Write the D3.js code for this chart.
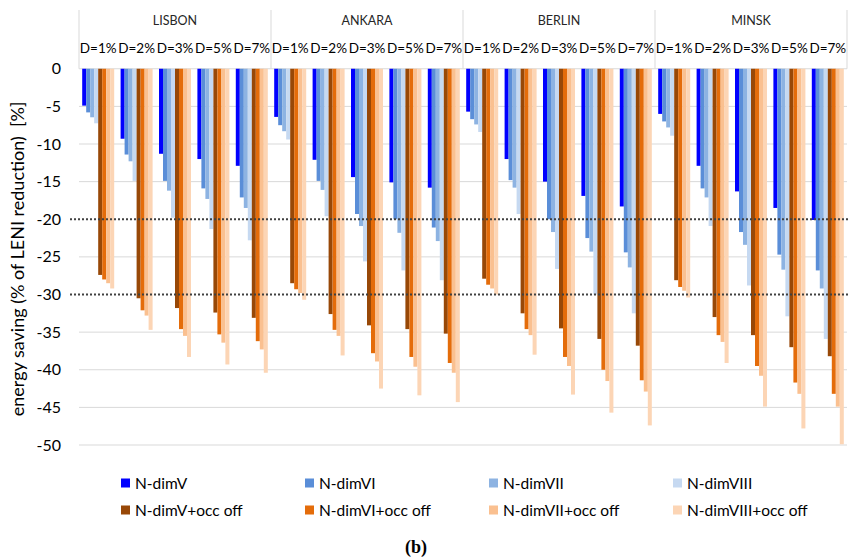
<!DOCTYPE html>
<html>
<head>
<meta charset="utf-8">
<script src="https://cdn.jsdelivr.net/npm/d3@7"></script>
<style>
  html, body { margin: 0; padding: 0; background: #fff; }
  svg { display: block; font-family: Lato, "Open Sans", sans-serif; }
</style>
</head>
<body>
<svg id="chart" width="850" height="559"></svg>
<script>
// Cities and diffuser shares along the x axis
const cities = ["LISBON", "ANKARA", "BERLIN", "MINSK"];
const dLabels = ["D=1%", "D=2%", "D=3%", "D=5%", "D=7%"];

// Series names (legend order = bar order inside each group)
const seriesNames = [
  "N-dimV", "N-dimVI", "N-dimVII", "N-dimVIII",
  "N-dimV+occ off", "N-dimVI+occ off", "N-dimVII+occ off", "N-dimVIII+occ off"
];
const seriesColors = [
  "#0000ff", "#5a8ed8", "#8db3e2", "#c6d9f1",
  "#984807", "#e46c0a", "#fac090", "#fcd5b5"
];

// Energy saving values, per series: LISBON, ANKARA, BERLIN, MINSK × D=1,2,3,5,7 %
const nDimV = [
  -4.9, -9.3, -11.3, -12.0, -12.9,
  -6.4, -12.1, -14.4, -15.1, -15.8,
  -5.7, -12.0, -15.0, -16.9, -18.3,
  -6.0, -12.9, -16.3, -18.5, -20.1
];
const nDimVI = [
  -5.8, -11.4, -14.9, -15.9, -17.1,
  -7.5, -14.9, -19.3, -20.0, -21.1,
  -6.7, -14.8, -20.0, -22.5, -24.4,
  -7.0, -15.9, -21.7, -24.7, -26.8
];
const nDimVII = [
  -6.45, -12.3, -16.2, -17.3, -18.5,
  -8.3, -16.1, -20.9, -21.8, -22.9,
  -7.4, -15.8, -21.7, -24.3, -26.4,
  -7.8, -17.1, -23.4, -26.7, -29.2
];
const nDimVIII = [
  -7.25, -14.9, -19.8, -21.3, -22.8,
  -9.4, -19.6, -25.6, -26.8, -28.1,
  -8.4, -19.3, -26.6, -30.0, -32.5,
  -8.9, -20.9, -28.8, -32.9, -35.9
];
const nDimVOcc = [
  -27.4, -30.5, -31.8, -32.4, -33.1,
  -28.5, -32.6, -34.1, -34.6, -35.2,
  -27.9, -32.5, -34.5, -35.9, -36.8,
  -28.1, -33.0, -35.4, -37.0, -38.2
];
const nDimVIOcc = [
  -28.0, -32.1, -34.6, -35.3, -36.2,
  -29.3, -34.7, -37.8, -38.3, -39.1,
  -28.7, -34.6, -38.3, -40.0, -41.4,
  -29.0, -35.4, -39.5, -41.7, -43.2
];
const nDimVIIOcc = [
  -28.5, -32.8, -35.5, -36.4, -37.3,
  -29.8, -35.5, -38.9, -39.6, -40.4,
  -29.2, -35.4, -39.5, -41.5, -42.9,
  -29.5, -36.3, -40.8, -43.2, -44.9
];
const nDimVIIIOcc = [
  -29.2, -34.7, -38.3, -39.3, -40.4,
  -30.7, -38.1, -42.5, -43.4, -44.3,
  -30.0, -38.0, -43.3, -45.7, -47.4,
  -30.4, -39.1, -44.9, -47.8, -49.9
];

// Y axis ticks and the two reference thresholds
const yTicks = [0, -5, -10, -15, -20, -25, -30, -35, -40, -45, -50];
const thresholds = [-20, -30];

const seriesValues = [nDimV, nDimVI, nDimVII, nDimVIII, nDimVOcc, nDimVIOcc, nDimVIIOcc, nDimVIIIOcc];

const svg = d3.select("#chart");
const plotLeft = 79, plotRight = 847, plotTop = 68.75, plotBottom = 445;
const headerTop = 10;
const gridColor = "#d9d9d9";

const y = d3.scaleLinear().domain([0, -50]).range([plotTop, plotBottom]);
const xCity = d3.scaleBand().domain(cities).range([plotLeft, plotRight]);
const xD = d3.scaleBand().domain(dLabels).range([0, xCity.bandwidth()]);
const xS = d3.scaleBand().domain(seriesNames).range([0, xD.bandwidth()]).paddingOuter(0.8).paddingInner(0);

// Horizontal gridlines
svg.append("g").selectAll("line")
  .data(yTicks.filter(t => t !== 0 && !thresholds.includes(t)))
  .join("line")
  .attr("x1", plotLeft).attr("x2", plotRight)
  .attr("y1", d => y(d)).attr("y2", d => y(d))
  .attr("stroke", gridColor).attr("stroke-width", 1);

// Header panel: city boxes with D labels
const header = svg.append("g");
header.append("line")
  .attr("x1", plotLeft).attr("x2", plotRight)
  .attr("y1", y(0)).attr("y2", y(0))
  .attr("stroke", gridColor).attr("stroke-width", 1);
header.selectAll("line.sep")
  .data(cities.map(c => xCity(c)).concat([plotRight]))
  .join("line").attr("class", "sep")
  .attr("x1", d => d).attr("x2", d => d)
  .attr("y1", headerTop).attr("y2", y(0))
  .attr("stroke", gridColor).attr("stroke-width", 1);
header.selectAll("text.city")
  .data(cities)
  .join("text").attr("class", "city")
  .attr("x", d => xCity(d) + xCity.bandwidth() / 2)
  .attr("y", 25)
  .attr("text-anchor", "middle")
  .attr("font-size", 12.5)
  .attr("fill", "#262626")
  .text(d => d);
cities.forEach(c => {
  header.append("g").selectAll("text")
    .data(dLabels)
    .join("text")
    .attr("x", d => xCity(c) + xD(d) + xD.bandwidth() / 2)
    .attr("y", 53)
    .attr("text-anchor", "middle")
    .attr("font-size", 13.5)
    .attr("fill", "#000")
    .text(d => d);
});

// Bars
const barData = [];
cities.forEach((c, ci) => {
  dLabels.forEach((d, di) => {
    seriesNames.forEach((s, si) => {
      barData.push({ city: c, d: d, s: s, si: si, v: seriesValues[si][ci * dLabels.length + di] });
    });
  });
});
svg.append("g").selectAll("rect")
  .data(barData)
  .join("rect")
  .attr("x", b => xCity(b.city) + xD(b.d) + xS(b.s))
  .attr("width", xS.bandwidth())
  .attr("y", y(0))
  .attr("height", b => y(b.v) - y(0))
  .attr("fill", b => seriesColors[b.si]);

// Dotted threshold lines
svg.append("g").selectAll("line")
  .data(thresholds)
  .join("line")
  .attr("x1", 70).attr("x2", 849)
  .attr("y1", d => y(d)).attr("y2", d => y(d))
  .attr("stroke", "#404040").attr("stroke-width", 2)
  .attr("stroke-dasharray", "2,2");

// Y axis labels
svg.append("g").selectAll("text")
  .data(yTicks)
  .join("text")
  .attr("x", 61)
  .attr("y", d => y(d))
  .attr("dy", "0.35em")
  .attr("text-anchor", "end")
  .attr("font-size", 16)
  .attr("fill", "#000")
  .text(d => d);

// Y axis title
svg.append("text")
  .attr("transform", `translate(24,${(plotTop + plotBottom) / 2 + 2}) rotate(-90)`)
  .attr("text-anchor", "middle")
  .attr("font-size", 18)
  .attr("fill", "#000")
  .attr("xml:space", "preserve")
  .text("energy saving (% of LENI reduction)  [%]");

// Legend: two rows of four
const legend = svg.append("g");
const legX = d3.scalePoint().domain(d3.range(4)).range([121, 673]);
const legY = [483, 510];
seriesNames.forEach((s, i) => {
  const gx = legX(i % 4), gy = legY[Math.floor(i / 4)];
  legend.append("rect")
    .attr("x", gx).attr("y", gy - 4.5)
    .attr("width", 9).attr("height", 9)
    .attr("fill", seriesColors[i]);
  legend.append("text")
    .attr("x", gx + 14).attr("y", gy)
    .attr("dy", "0.36em")
    .attr("font-size", 15.5)
    .attr("fill", "#000")
    .text(s);
});

// Panel caption
svg.append("text")
  .attr("x", 416).attr("y", 553)
  .attr("text-anchor", "middle")
  .attr("font-family", "'Liberation Serif', 'Times New Roman', serif")
  .attr("font-weight", "bold")
  .attr("font-size", 18)
  .text("(b)");
</script>
</body>
</html>
